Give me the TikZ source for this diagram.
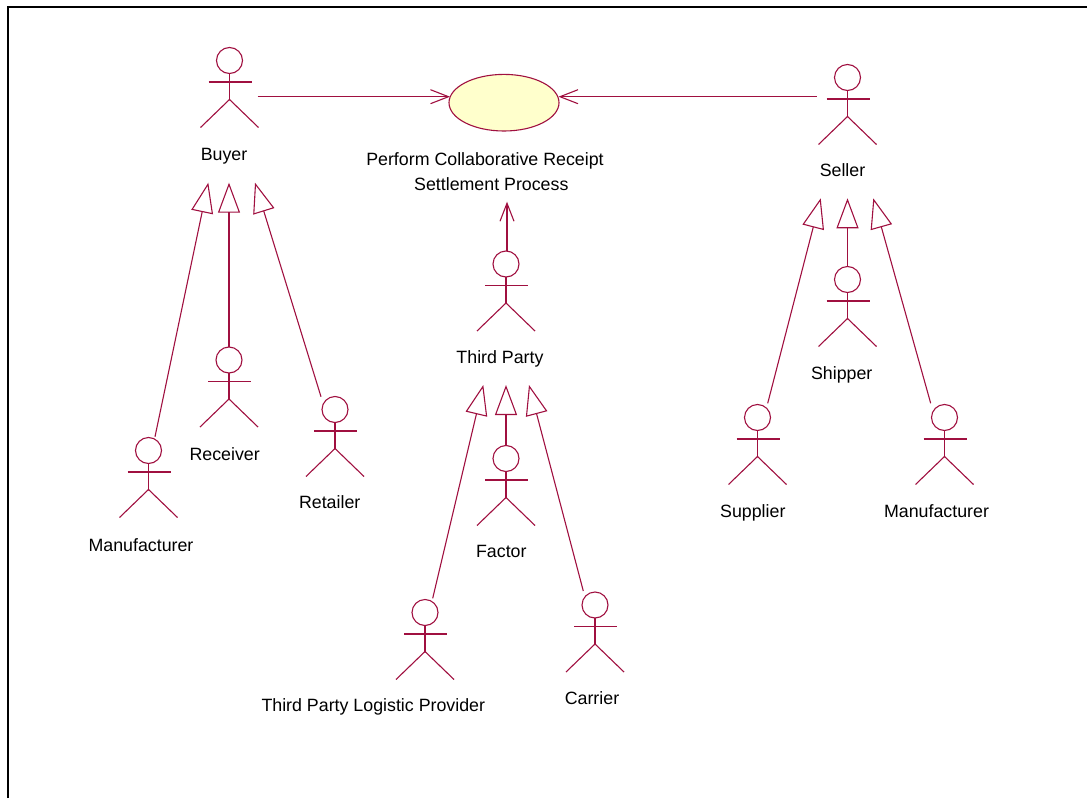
\documentclass[tikz,border=0pt]{standalone}
\usepackage{fontspec}
\setmainfont{Liberation Sans}
\usetikzlibrary{arrows.meta,shapes.geometric}
\definecolor{rose}{RGB}{160,16,64}
\definecolor{ucfill}{RGB}{255,255,204}
\tikzset{
  actorline/.style={draw=rose, line width=1.1pt},
  actor/.pic={
    \draw[actorline] (0,0) circle[radius=13pt];
    \draw[actorline] (0,13) -- (0,39);
    \draw[actorline] (-21,21.5) -- (22,21.5);
    \draw[actorline] (-29,67) -- (0,39) -- (29,67);
  },
  lbl/.style={font=\fontsize{17.8}{22}\selectfont, text=black, inner sep=0pt, anchor=base},
  usecase/.style={ellipse, draw=rose, fill=ucfill, line width=1.1pt, minimum width=110pt, minimum height=56.6pt, inner sep=0pt},
  assoc/.style={rose, line width=1.1pt, -{Straight Barb[length=18pt, width=14pt]}},
  gener/.style={rose, line width=1.1pt, -{Triangle[open, length=30pt, width=22pt]}}
}
\begin{document}
\begin{tikzpicture}[x=1pt, y=-1pt]
\useasboundingbox (0,0) rectangle (1087,798);
\draw[line width=2pt, black] (8,798) -- (8,7) -- (1087,7);

% use case
\node[usecase] (uc) at (504,102.7) {};
\node[lbl] (uctext1) at (485,165) {Perform Collaborative Receipt};
\node[lbl] (uctext2) at (491.3,190) {Settlement Process};

% actors
\pic at (229.5,60.5) {actor};
\node[lbl] (lbuyer) at (224,160) {Buyer};
\pic at (229,360) {actor};
\node[lbl] (lreceiver) at (224.7,460) {Receiver};
\pic at (335,409.5) {actor};
\node[lbl] (lretailer) at (329.7,508.3) {Retailer};
\pic at (148.5,450.5) {actor};
\node[lbl] (lmanuL) at (141,551) {Manufacturer};

\pic at (506,264) {actor};
\node[lbl] (lthird) at (500,363) {Third Party};
\pic at (506,458.5) {actor};
\node[lbl] (lfactor) at (501.3,557.7) {Factor};
\pic at (425,612.5) {actor};
\node[lbl] (ltplp) at (373.3,711.7) {Third Party Logistic Provider};
\pic at (595,605) {actor};
\node[lbl] (lcarrier) at (592,704) {Carrier};

\pic at (847.5,77.5) {actor};
\node[lbl] (lseller) at (842.5,176) {Seller};
\pic at (847.5,279.5) {actor};
\node[lbl] (lshipper) at (841.7,379.3) {Shipper};
\pic at (757.5,417.5) {actor};
\node[lbl] (lsupplier) at (752.8,517.3) {Supplier};
\pic at (944.5,417.5) {actor};
\node[lbl] (lmanuR) at (936.5,517.3) {Manufacturer};

% connector end points
\coordinate (buyerA) at (257.7,96.7);
\coordinate (ucL) at (450,96.7);
\coordinate (sellerA) at (816.7,96.7);
\coordinate (ucR) at (558.5,96.7);
\coordinate (thirdA) at (507,250.7);
\coordinate (ucB) at (507,201.7);

\coordinate (buyerT1) at (208.3,182.7);
\coordinate (buyerT2) at (229,182.7);
\coordinate (buyerT3) at (255,182.7);
\coordinate (manuLtop) at (155,436.7);
\coordinate (receivertop) at (229,347);
\coordinate (retailertop) at (321,396.7);

\coordinate (thirdT1) at (483.3,385);
\coordinate (thirdT2) at (506,385);
\coordinate (thirdT3) at (529,385);
\coordinate (tplptop) at (432.7,598.3);
\coordinate (factortop) at (506,445.5);
\coordinate (carriertop) at (583.3,591);

\coordinate (sellerT1) at (820.7,198.3);
\coordinate (sellerT2) at (847.5,198.3);
\coordinate (sellerT3) at (873.3,198.3);
\coordinate (suppliertop) at (767.7,403.3);
\coordinate (shippertop) at (847.5,266.5);
\coordinate (manuRtop) at (930.7,403.3);

% associations
\draw[assoc] (buyerA) -- (ucL);
\draw[assoc] (sellerA) -- (ucR);
\draw[assoc] (thirdA) -- (ucB);

% generalizations
\draw[gener] (manuLtop) -- (buyerT1);
\draw[gener] (receivertop) -- (buyerT2);
\draw[gener] (retailertop) -- (buyerT3);
\draw[gener] (tplptop) -- (thirdT1);
\draw[gener] (factortop) -- (thirdT2);
\draw[gener] (carriertop) -- (thirdT3);
\draw[gener] (suppliertop) -- (sellerT1);
\draw[gener] (shippertop) -- (sellerT2);
\draw[gener] (manuRtop) -- (sellerT3);
\end{tikzpicture}
\end{document}
